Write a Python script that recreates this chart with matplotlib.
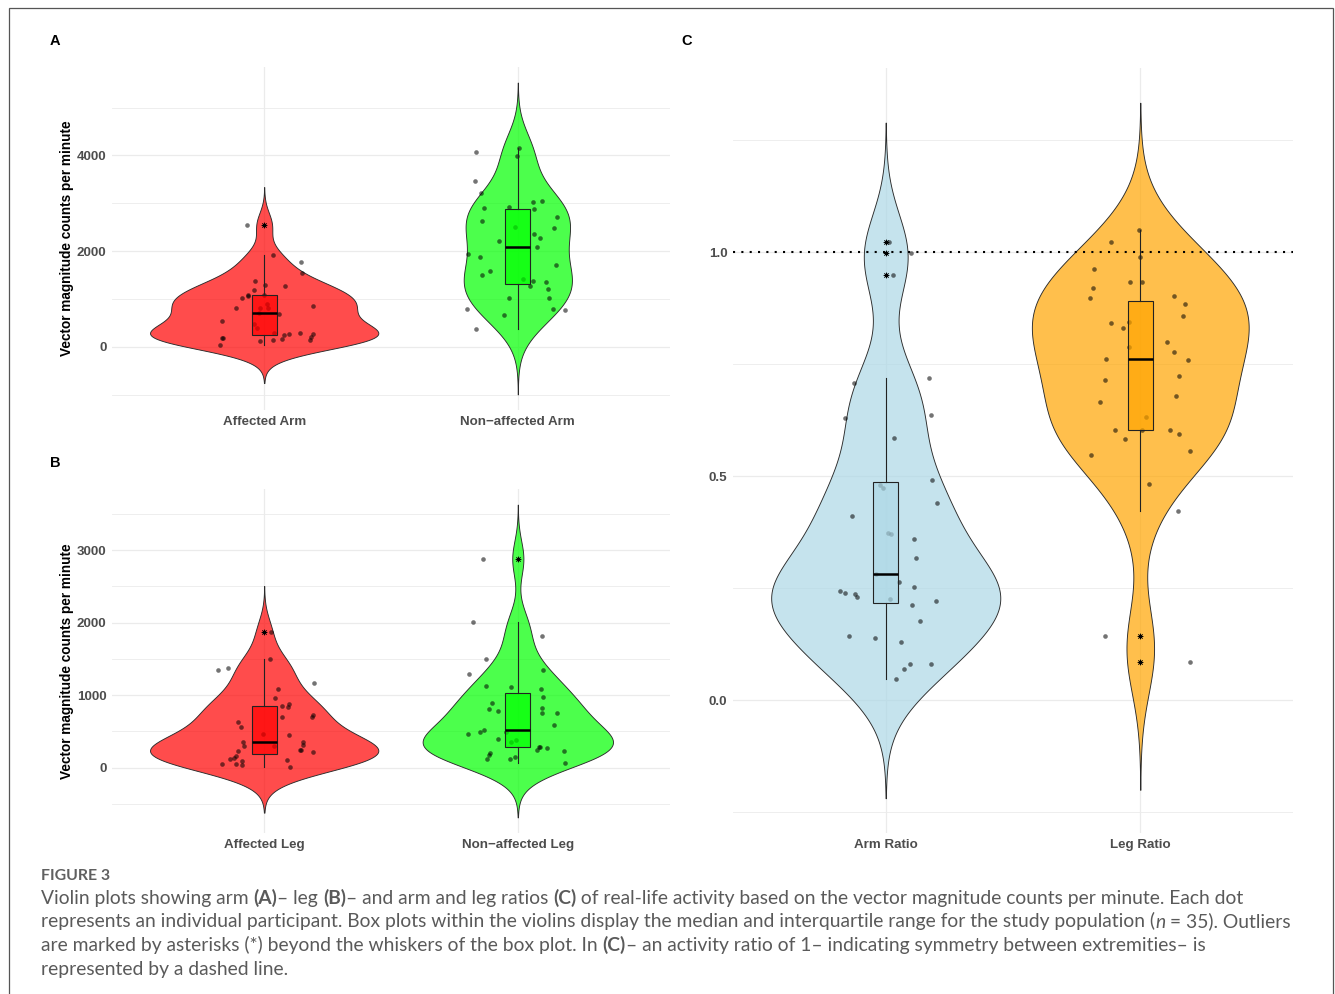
import numpy as np
import matplotlib
matplotlib.use("Agg")
import matplotlib.pyplot as plt
from matplotlib.patches import Rectangle
from matplotlib.colors import to_rgb

# ---------------- data ----------------
arm_categories = ["Affected Arm", "Non\u2212affected Arm"]
leg_categories = ["Affected Leg", "Non\u2212affected Leg"]
ratio_categories = ["Arm Ratio", "Leg Ratio"]

affected_arm = [2545, 1909, 1762, 1545, 1385, 1287, 1273, 1182, 1084, 1070, 1014, 818, 860,
                685, 545, 175, 175, 35, 126, 147, 168, 252, 266, 280, 259, 196, 133,
                294, 400, 476, 713, 804, 804, 895, 1084]
affected_arm_jitter = [-0.067, 0.033, 0.144, 0.149, -0.038, 0.004, 0.084, -0.041, -0.062, -0.064,
                       -0.088, -0.112, 0.191, 0.059, -0.167, -0.167, -0.162, -0.173, -0.017, 0.033,
                       0.070, 0.080, 0.099, 0.141, 0.194, 0.186, 0.181,
                       0.040, -0.030, -0.042, -0.020, -0.016, 0.017, 0.013, 0.000]

nonaffected_arm = [4066, 4156, 3996, 3466, 3208, 2894, 2929, 3020, 3040, 2880, 2706, 2622, 2476,
                   2497, 2357, 2280, 2085, 2204, 1932, 1869, 1715, 1576, 1492, 1423, 1381, 1269,
                   1346, 1213, 1011, 1018, 795, 788, 767, 656, 370]
nonaffected_arm_jitter = [-0.166, 0.003, -0.003, -0.169, -0.144, -0.134, -0.036, 0.058, 0.095, 0.062,
                          0.155, -0.142, 0.141, -0.011, 0.063, 0.087, 0.076, -0.076, -0.195, -0.150,
                          0.150, -0.108, -0.142, 0.020, 0.058, 0.049, 0.111, 0.120, -0.034, 0.124,
                          -0.200, 0.138, 0.186, -0.053, -0.164]

affected_leg = [1871, 1501, 1353, 1381, 1173, 1090, 965, 855, 841, 873, 697, 697, 720, 624, 554,
                462, 453, 351, 300, 351, 314, 249, 249, 212, 300, 231, 162, 139, 120, 88, 42,
                51, 51, 111, 14]
affected_leg_jitter = [0.026, 0.022, -0.183, -0.141, 0.195, 0.053, 0.042, 0.072, 0.094, 0.099,
                       0.070, 0.190, 0.194, -0.103, -0.092, -0.004, 0.099, -0.083, -0.079, 0.154,
                       0.152, 0.145, 0.141, 0.192, 0.037, -0.105, -0.112, -0.119, -0.134, -0.087,
                       -0.088, -0.111, -0.167, 0.090, 0.103]

nonaffected_leg = [2883, 2005, 1811, 1506, 1298, 1349, 1123, 1113, 1090, 979, 892, 808, 785, 818,
                   753, 753, 591, 522, 494, 467, 485, 388, 360, 379, 282, 282, 236, 277, 226,
                   208, 171, 115, 125, 152, 60]
nonaffected_leg_jitter = [-0.136, -0.177, 0.096, -0.125, -0.192, 0.100, -0.125, -0.028, 0.091, 0.100,
                          -0.101, -0.113, -0.079, 0.097, 0.096, 0.154, 0.142, -0.132, -0.150, -0.195,
                          -0.047, -0.080, -0.028, -0.007, 0.083, 0.086, 0.074, 0.116, 0.182, -0.108,
                          -0.113, -0.121, -0.032, -0.011, 0.186]

arm_ratio = [1.023, 0.475, 0.999, 0.949, 0.719, 0.708, 0.630, 0.638, 0.586, 0.492, 0.481, 0.440,
             0.411, 0.374, 0.371, 0.359, 0.318, 0.281, 0.265, 0.252, 0.243, 0.239, 0.237, 0.230,
             0.222, 0.225, 0.212, 0.176, 0.144, 0.139, 0.131, 0.082, 0.070, 0.080, 0.048]
arm_ratio_jitter = [0.011, -0.010, 0.099, 0.030, 0.170, -0.124, -0.161, 0.178, 0.033, 0.183, -0.022,
                    0.200, -0.133, 0.007, 0.020, 0.111, 0.120, -0.037, 0.054, 0.111, -0.179, -0.159,
                    -0.121, -0.113, 0.198, 0.016, 0.103, 0.134, -0.146, -0.043, 0.059, 0.095, 0.071,
                    0.177, 0.042]

leg_ratio = [1.049, 1.023, 0.990, 0.963, 0.933, 0.934, 0.920, 0.899, 0.903, 0.885, 0.857, 0.842,
             0.831, 0.844, 0.799, 0.777, 0.788, 0.759, 0.761, 0.724, 0.715, 0.679, 0.667, 0.633,
             0.604, 0.604, 0.595, 0.583, 0.604, 0.547, 0.556, 0.482, 0.422, 0.144, 0.085]
leg_ratio_jitter = [-0.005, -0.115, 0.000, -0.182, -0.041, 0.005, -0.186, -0.196, 0.134, 0.175,
                    0.166, -0.116, -0.069, -0.043, 0.105, 0.134, -0.043, 0.188, -0.134, 0.154,
                    -0.137, 0.141, -0.159, 0.022, -0.101, 0.117, 0.154, -0.061, 0.005, -0.194,
                    0.195, 0.034, 0.148, -0.137, 0.195]

symmetry_ratio = 1.0

# ---------------- styling ----------------
W, H = 1335, 994
plt.rcParams['font.family'] = ['Liberation Sans', 'DejaVu Sans']
fig = plt.figure(figsize=(W / 100, H / 100), dpi=100)
fig.patch.set_facecolor('white')

GRID = '#EBEBEB'
TICKCOL = '#4D4D4D'
TICKSIZE = 9.6


def px_axes(x0, y0, x1, y1):
    return fig.add_axes([x0 / W, 1 - y1 / H, (x1 - x0) / W, (y1 - y0) / H])


def nrd0(v):
    v = np.asarray(v, float)
    q75, q25 = np.percentile(v, [75, 25])
    return 0.9 * min(np.std(v, ddof=1), (q75 - q25) / 1.34) * len(v) ** -0.2


def kde(v):
    v = np.asarray(v, float)
    bw = nrd0(v)
    y = np.linspace(v.min() - 3 * bw, v.max() + 3 * bw, 512)
    d = np.exp(-0.5 * ((y[:, None] - v[None, :]) / bw) ** 2).sum(axis=1)
    d /= (len(v) * bw * np.sqrt(2 * np.pi))
    return y, d


def panel(ax, groups, jitters, labels, colors, major, minor, ticklabels, hline=None):
    dens = [kde(g) for g in groups]
    dmax = max(d.max() for _, d in dens)
    lo = min(y.min() for y, _ in dens)
    hi = max(y.max() for y, _ in dens)
    span = hi - lo
    ax.set_ylim(lo - 0.05 * span, hi + 0.05 * span)
    ax.set_xlim(0.4, 2.6)
    for i, (g, j, (y, d), c) in enumerate(zip(groups, jitters, dens, colors)):
        pos = i + 1
        rgb = to_rgb(c)
        w = 0.45 * d / dmax
        ax.fill_betweenx(y, pos - w, pos + w, facecolor=rgb + (0.7,),
                         edgecolor='#2a2a2a', linewidth=0.65, zorder=2)
        ax.scatter(pos + np.asarray(j), g, s=11, color='black', alpha=0.55,
                   linewidths=0, zorder=3)
        ax.boxplot([g], positions=[pos], widths=0.1, patch_artist=True, showcaps=False,
                   whis=1.5, manage_ticks=False, zorder=4,
                   boxprops=dict(facecolor=rgb + (0.7,), edgecolor='#222222', linewidth=0.8),
                   medianprops=dict(color='black', linewidth=1.8),
                   whiskerprops=dict(color='#222222', linewidth=0.8),
                   flierprops=dict(marker=(8, 2, 0), markersize=4.0, markeredgecolor='black',
                                   markeredgewidth=0.5, linestyle='none'))
    if hline is not None:
        ax.axhline(hline, color='black', linewidth=1.5, linestyle=(0, (1, 3)), zorder=5)
    ax.set_xticks([1, 2])
    ax.set_xticklabels(labels)
    ax.set_yticks(major)
    ax.set_yticklabels(ticklabels)
    ax.set_yticks(minor, minor=True)
    ax.grid(True, which='major', color=GRID, linewidth=0.9, zorder=0)
    ax.grid(True, which='minor', axis='y', color=GRID, linewidth=0.6, zorder=0)
    ax.set_axisbelow(True)
    for s in ax.spines.values():
        s.set_visible(False)
    ax.tick_params(which='both', length=0)
    ax.tick_params(axis='y', pad=4)
    ax.tick_params(axis='x', pad=4)
    for t in ax.get_xticklabels() + ax.get_yticklabels():
        t.set_fontsize(TICKSIZE)
        t.set_fontweight('bold')
        t.set_color(TICKCOL)


axA = px_axes(112, 67, 670, 410)
panel(axA, [affected_arm, nonaffected_arm], [affected_arm_jitter, nonaffected_arm_jitter],
      arm_categories, ['#FF0000', '#00FF00'], [0, 2000, 4000], [-1000, 1000, 3000, 5000],
      ['0', '2000', '4000'])

axB = px_axes(112, 489, 670, 833)
panel(axB, [affected_leg, nonaffected_leg], [affected_leg_jitter, nonaffected_leg_jitter],
      leg_categories, ['#FF0000', '#00FF00'], [0, 1000, 2000, 3000],
      [-500, 500, 1500, 2500, 3500], ['0', '1000', '2000', '3000'])

axC = px_axes(733, 68, 1293, 833)
panel(axC, [arm_ratio, leg_ratio], [arm_ratio_jitter, leg_ratio_jitter],
      ratio_categories, ['#ADD8E6', '#FFA500'], [0.0, 0.5, 1.0], [-0.25, 0.25, 0.75, 1.25],
      ['0.0', '0.5', '1.0'], hline=symmetry_ratio)

for ax in (axA, axB):
    ax.set_ylabel('Vector magnitude counts per minute', fontsize=9.8, fontweight='bold',
                  color='black')
    ax.yaxis.set_label_coords(-(112 - 67) / 558, 0.5)
    ax.yaxis.label.set_va('center')

for lab, x, y in [('A', 55, 41), ('B', 55, 463), ('C', 687, 41)]:
    fig.text(x / W, 1 - y / H, lab, ha='center', va='center', fontsize=10.5,
             fontweight='bold', color='black')

# border
fig.add_artist(Rectangle((8.5 / W, -0.01), (1332.5 - 8.5) / W, 1 - 7.5 / H + 0.01,
                         transform=fig.transFigure, fill=False, edgecolor='#555555',
                         linewidth=0.9))

# ---------------- caption ----------------
renderer = fig.canvas.get_renderer()
CAPFAM = ['Lato', 'DejaVu Sans']
CAPCOL = '#5A5A5A'


def twidth(s, size, weight='normal', style='normal'):
    t1 = fig.text(0, 0, '|' + s + '|', fontsize=size, family=CAPFAM, weight=weight, style=style)
    t2 = fig.text(0, 0, '||', fontsize=size, family=CAPFAM, weight=weight, style=style)
    w = t1.get_window_extent(renderer).width - t2.get_window_extent(renderer).width
    t1.remove()
    t2.remove()
    return w


cap_lines = [
    [("Violin plots showing arm ", 'normal', 'normal'), ("(A)", 'bold', 'normal'),
     ("\u2013 leg ", 'normal', 'normal'), ("(B)", 'bold', 'normal'),
     ("\u2013 and arm and leg ratios ", 'normal', 'normal'), ("(C)", 'bold', 'normal'),
     (" of real-life activity based on the vector magnitude counts per minute. Each dot",
      'normal', 'normal')],
    [("represents an individual participant. Box plots within the violins display the median "
      "and interquartile range for the study population (", 'normal', 'normal'),
     ("n", 'normal', 'italic'), (" = 35). Outliers", 'normal', 'normal')],
    [("are marked by asterisks (*) beyond the whiskers of the box plot. In ", 'normal', 'normal'),
     ("(C)", 'bold', 'normal'),
     ("\u2013 an activity ratio of 1\u2013 indicating symmetry between extremities\u2013 is",
      'normal', 'normal')],
    [("represented by a dashed line.", 'normal', 'normal')],
]

base = 12.0
w1 = sum(twidth(s, base, wt, st) for s, wt, st in cap_lines[1])
capsize = base * (1290 - 41) / w1

baselines = [904, 927.5, 951, 974.5]
for segs, yb in zip(cap_lines, baselines):
    x = 41
    for s, wt, st in segs:
        fig.text(x / W, 1 - yb / H, s, fontsize=capsize, family=CAPFAM, weight=wt, style=st,
                 color=CAPCOL, va='baseline', ha='left')
        x += twidth(s, capsize, wt, st)

fig.text(41 / W, 1 - 880 / H, 'FIGURE 3', fontsize=capsize * 0.82, family=CAPFAM,
         weight='bold', color='#606060', va='baseline', ha='left')

fig.savefig('out.png', dpi=100, facecolor='white')
